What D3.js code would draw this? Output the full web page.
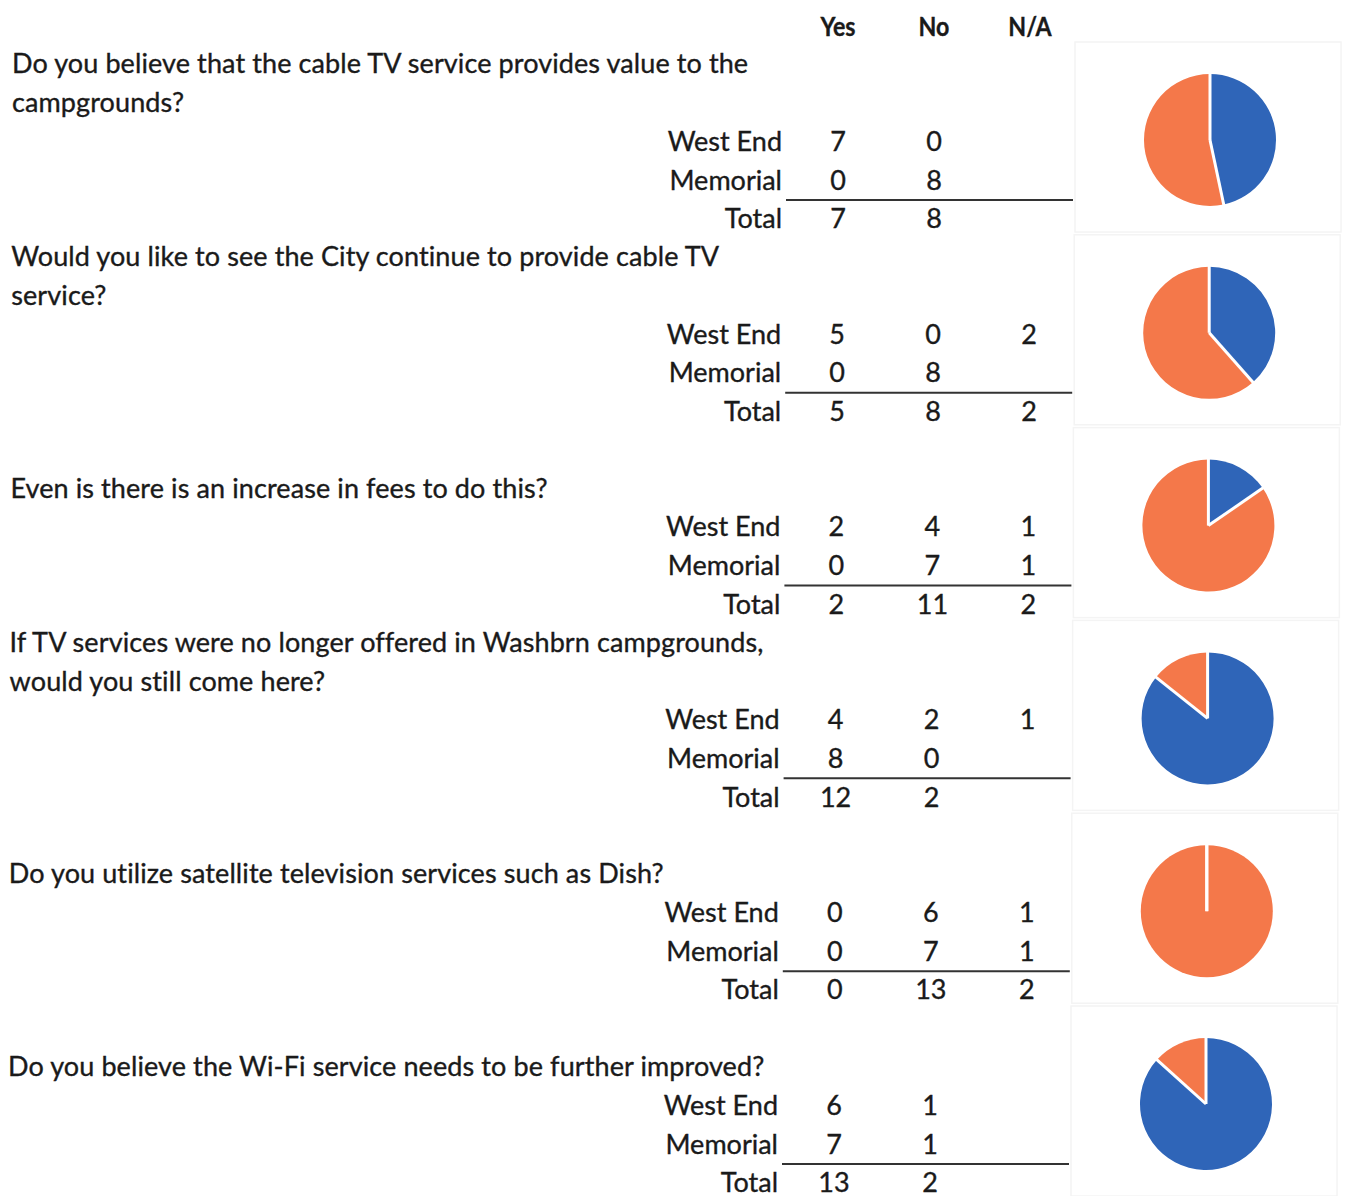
<!DOCTYPE html>
<html>
<head>
<meta charset="utf-8">
<script src="https://cdn.jsdelivr.net/npm/d3@7"></script>
<style>
  body { margin: 0; background: #fff; }
  text { font-family: Lato, "Open Sans", sans-serif; fill: #1a1a1a; stroke: #1a1a1a; stroke-width: 0.35px; }
</style>
</head>
<body>
<div id="chart"></div>
<script>
// questions (line breaks as in the sheet)
const questions = [
  ["Do you believe that the cable TV service provides value to the", "campgrounds?"],
  ["Would you like to see the City continue to provide cable TV", "service?"],
  ["Even is there is an increase in fees to do this?"],
  ["If TV services were no longer offered in Washbrn campgrounds,", "would you still come here?"],
  ["Do you utilize satellite television services such as Dish?"],
  ["Do you believe the Wi-Fi service needs to be further improved?"]
];
const columns = ["Yes", "No", "N/A"];
const rowNames = ["West End", "Memorial", "Total"];
// [Yes, No, N/A] per question, null = empty cell
const westEnd  = [[7, 0, null], [5, 0, 2], [2, 4, 1], [4, 2, 1], [0, 6, 1], [6, 1, null]];
const memorial = [[0, 8, null], [0, 8, null], [0, 7, 1], [8, 0, null], [0, 7, 1], [7, 1, null]];
const totals   = [[7, 8, null], [5, 8, 2], [2, 11, 2], [12, 2, null], [0, 13, 2], [13, 2, null]];
const pieColors = ["#2f65b8", "#f4784a"];

const W = 1347, H = 1196;
const svg = d3.select("#chart").append("svg")
  .attr("width", W).attr("height", H);

// vertical layout: each block is 5 text slots
const blockY = d3.scaleLinear().domain([0, 1]).range([64, 256.8]);
const slot = 38.7;
const colX = d3.scalePoint().domain(columns).range([838, 1030]);
const labelX = 782;
const fs = 27;

// header
svg.selectAll("text.head").data(columns).join("text")
  .attr("class", "head")
  .attr("x", d => colX(d))
  .attr("y", 27).attr("dy", "0.35em")
  .attr("text-anchor", "middle")
  .style("font-weight", "bold")
  .style("font-size", "27px")
  .attr("transform", d => `translate(${colX(d) * 0.14},0) scale(0.86,1)`)
  .text(d => d);

const pie = d3.pie().sort(null).value(d => d);
const arc = d3.arc().innerRadius(0).outerRadius(66);

questions.forEach((q, i) => {
  const B = blockY(i);
  const dx = -i * 0.8;
  const g = svg.append("g").attr("transform", `translate(${dx},0)`);

  // chart frame (faint)
  g.append("rect")
    .attr("x", 1075).attr("y", B - 22)
    .attr("width", 266).attr("height", 190)
    .attr("fill", "none").attr("stroke", "#f4f4f4").attr("stroke-width", 1.5);

  // question lines, bottom aligned in the two top slots
  const lines = q.length === 1 ? [null, q[0]] : q;
  lines.forEach((t, k) => {
    if (!t) return;
    g.append("text")
      .attr("x", 12).attr("y", B + k * slot).attr("dy", "0.35em")
      .style("font-size", fs + "px")
      .style("letter-spacing", "0.1px")
      .text(t);
  });

  const rows = [westEnd[i], memorial[i], totals[i]];
  rows.forEach((vals, r) => {
    const y = B + (r + 2) * slot;
    g.append("text")
      .attr("x", labelX).attr("y", y).attr("dy", "0.35em")
      .attr("text-anchor", "end")
      .style("font-size", fs + "px")
      .text(rowNames[r]);
    vals.forEach((v, c) => {
      if (v === null) return;
      g.append("text")
        .attr("x", colX(columns[c])).attr("y", y).attr("dy", "0.35em")
        .attr("text-anchor", "middle")
        .style("font-size", fs + "px")
        .text(v);
    });
  });

  // rule above total
  g.append("line")
    .attr("x1", 786).attr("x2", 1073)
    .attr("y1", B + 3.5 * slot + 0.5).attr("y2", B + 3.5 * slot + 0.5)
    .attr("stroke", "#333").attr("stroke-width", 2);

  // pie of Yes / No totals
  const pg = g.append("g").attr("transform", `translate(1210,${B + 76})`);
  const slices = pie(totals[i].slice(0, 2));
  pg.selectAll("path").data(slices).join("path")
    .attr("d", arc)
    .attr("fill", (d, k) => pieColors[k]);
  // white separators at slice edges
  pg.selectAll("line").data(slices).join("line")
    .attr("x1", 0).attr("y1", 0)
    .attr("x2", d => 67 * Math.sin(d.startAngle))
    .attr("y2", d => -67 * Math.cos(d.startAngle))
    .attr("stroke", "#fff").attr("stroke-width", 3);
});
</script>
</body>
</html>
